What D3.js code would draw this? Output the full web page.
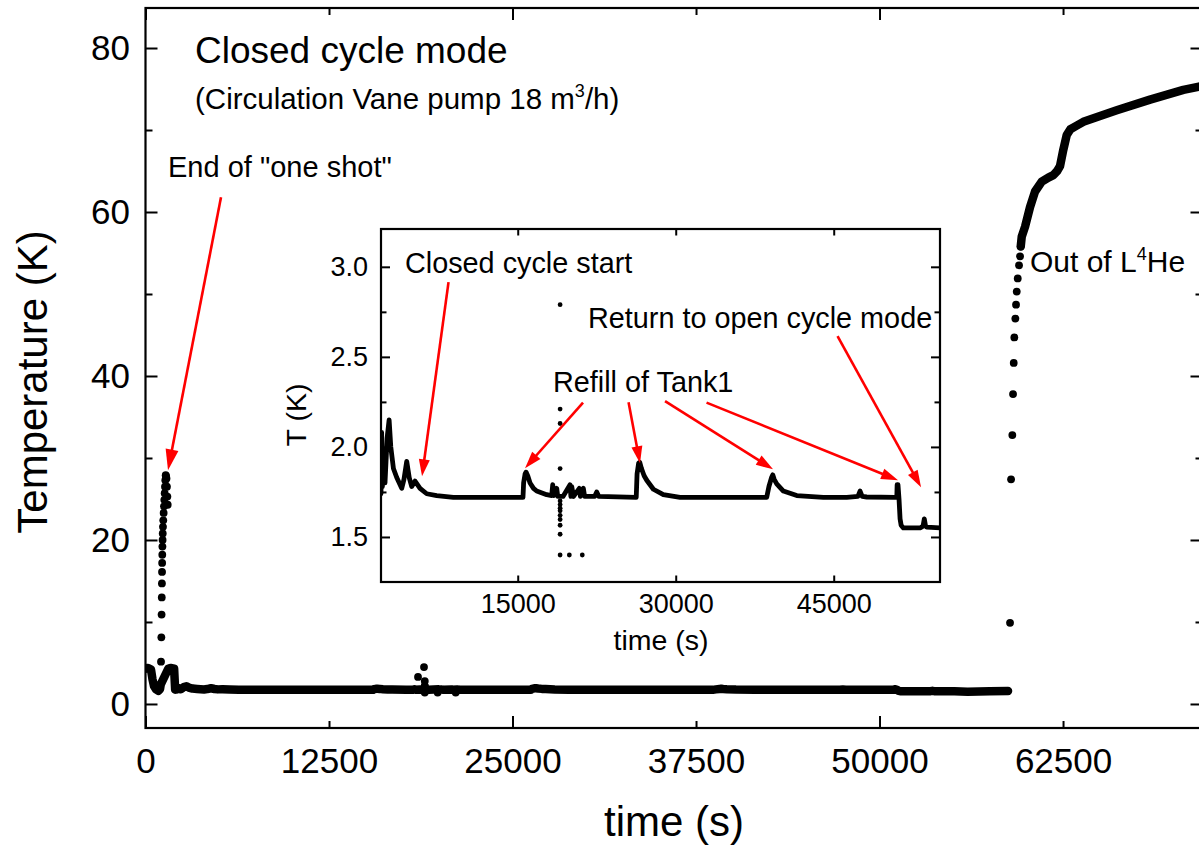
<!DOCTYPE html>
<html><head><meta charset="utf-8">
<script src="https://cdn.jsdelivr.net/npm/d3@7"></script>
<style>
body{margin:0;background:#fff}
svg{display:block}
</style>
</head><body>
<svg id="c" width="1199" height="846"></svg>
<script>
// ---------------- DATA ----------------
// main chart: early part (time s, T K)
const earlySeries = [[0,4.3],[170,4.4],[375,4.2],[477,3.0],[579,2.2],[715,1.8],[872,1.6],[988,1.8],[1040,2.4],[1550,4.3],[1700,4.4],[1950,4.3]];
// "one shot" spike, individual points
const spikeDots = [[1056,5.16],[1080,8.13],[1096,10.9],[1108,13.0],[1118,14.7],[1126,16.1],[1134,17.2],[1144,18.2],[1152,19.2],[1164,20.0],[1174,20.8],[1190,21.6],[1210,22.4],[1236,23.3],[1258,24.1],[1282,24.9],[1306,25.7],[1328,26.5],[1350,27.3],[1376,27.9],[1400,27.8],[1430,27.5],[1460,26.5],[1490,25.3],[1512,24.3]];
// closed-cycle low temperature record (shared by main plot and inset)
const lowSeries = [[2020,1.74],[2080,2.08],[2150,1.78],[2250,1.95],[2400,1.80],[2600,2.05],[2790,2.15],[2950,2.0],[3200,1.88],[3513,1.83],[3987,1.77],[4200,1.82],[4462,1.92],[4700,1.83],[4937,1.78],[5250,1.81],[5725,1.77],[6360,1.74],[7310,1.73],[8890,1.72],[12057,1.72],[15500,1.72],[15560,1.80],[15700,1.85],[15790,1.86],[15950,1.84],[16170,1.80],[16500,1.77],[16800,1.755],[17750,1.735],[18225,1.73],[18323,1.79],[18420,1.73],[18703,1.77],[18800,1.725],[19300,1.725],[19966,1.79],[20050,1.725],[20125,1.78],[20300,1.725],[20850,1.77],[20950,1.725],[21230,1.77],[21350,1.725],[22300,1.725],[22500,1.75],[22700,1.725],[26250,1.72],[26330,1.85],[26480,1.91],[26580,1.915],[26750,1.88],[27000,1.84],[27248,1.815],[27880,1.765],[28824,1.735],[30410,1.72],[38640,1.72],[38850,1.78],[39100,1.83],[39210,1.845],[39350,1.82],[39590,1.795],[40220,1.755],[41490,1.73],[44015,1.72],[46236,1.72],[47300,1.725],[47500,1.755],[47700,1.725],[48134,1.722],[50820,1.72],[50990,1.72],[51020,1.79],[51100,1.79],[51200,1.71],[51300,1.60],[51400,1.565],[51610,1.55],[53200,1.55],[53480,1.56],[53600,1.60],[53720,1.56],[53830,1.555],[55100,1.55]];
// main chart: rest of the closed-cycle record
const tailSeries = [[56000,1.5],[57500,1.55],[58755,1.58]];
// scattered readings around 19000 s
const scatterDots = [[18563,3.3],[18971,4.5],[19024,2.79],[19024,2.21],[19024,2.13],[19024,1.88],[19024,1.70],[19024,1.68],[19024,1.66],[19024,1.645],[19024,1.62],[19024,1.597],[19024,1.565],[19024,1.515],[19024,1.40],[19900,1.40],[21130,1.40]];
// warm-up after running out of liquid helium
const warmDots = [[58890,9.9],[58960,27.4],[59046,32.8],[59094,37.8],[59142,41.6],[59183,44.7],[59251,47.0],[59298,48.7],[59346,50.3],[59414,51.9],[59503,53.5],[59571,54.6],[59619,55.8]];
const warmSeries = [[59619,55.8],[59687,57.0],[59912,58.2],[60252,60.6],[60593,62.5],[61049,63.7],[61500,64.2],[61839,64.5],[62100,65.0],[62295,65.6],[62520,67.6],[62752,69.4],[63000,70.1],[63400,70.5],[63883,71.0],[66158,72.4],[68427,73.7],[70695,74.9],[71764,75.3],[72500,75.6]];

// ticks
const mainXMajor = [0, 25000, 50000];
const mainXMinor = [12500, 37500, 62500];
const mainYMajor = [0, 20, 40, 60, 80];
const mainYMinor = [10, 30, 50, 70];
const insetXTicks = [15000, 30000, 45000];
const insetYMajor = [1.5, 2.0, 2.5, 3.0];
const insetYMinor = [1.75, 2.25, 2.75];

// annotation arrows [from, to] in data units
const mainArrows = [[[5143, 61.8], [1533, 28.5]]];
const insetArrows = [
  [[8431, 2.915], [5915, 1.837]],
  [[21200, 2.246], [15694, 1.882]],
  [[25520, 2.248], [26612, 1.909]],
  [[28985, 2.254], [39240, 1.876]],
  [[32926, 2.246], [51106, 1.815]],
  [[45362, 2.615], [53290, 1.776]]
];

// ---------------- DRAW ----------------
const FONT = '"Liberation Sans", Arial, Helvetica, sans-serif';
const svg = d3.select('#c');

const L = 145.5, R = 1202.5, T = 8, B = 728;
const x = d3.scaleLinear().domain([0, 72000]).range([L, R]);
const y = d3.scaleLinear().domain([-2.93, 84.88]).range([B, T]);

const defs = svg.append('defs');
defs.append('clipPath').attr('id', 'mainClip').append('rect')
  .attr('x', L).attr('y', T).attr('width', R - L).attr('height', B - T);

const gMain = svg.append('g').attr('clip-path', 'url(#mainClip)');
const lineMain = d3.line().x(d => x(d[0])).y(d => y(d[1]));
const mainPts = earlySeries.concat(lowSeries, tailSeries);
gMain.append('path').attr('d', lineMain(mainPts)).attr('fill', 'none')
  .attr('stroke', '#000').attr('stroke-width', 8.5).attr('stroke-linecap', 'round').attr('stroke-linejoin', 'round');
gMain.append('path').attr('d', lineMain(warmSeries)).attr('fill', 'none')
  .attr('stroke', '#000').attr('stroke-width', 8.5).attr('stroke-linecap', 'round').attr('stroke-linejoin', 'round');
gMain.selectAll('circle.d').data(spikeDots.concat(scatterDots, warmDots)).enter().append('circle')
  .attr('cx', d => x(d[0])).attr('cy', d => y(d[1])).attr('r', 3.9).attr('fill', '#000');

function styleAxis(g, size) {
  g.select('.domain').remove();
  g.attr('font-family', FONT).attr('font-size', size);
  g.selectAll('.tick line').attr('stroke', '#000').attr('stroke-width', 2);
  g.selectAll('.tick text').attr('fill', '#000');
}
const fmtD = d3.format('d');
// main axes
styleAxis(svg.append('g').attr('transform', `translate(0,${B})`)
  .call(d3.axisBottom(x).tickValues(mainXMajor).tickSize(-12).tickPadding(20).tickFormat(fmtD)), 35);
styleAxis(svg.append('g').attr('transform', `translate(0,${B})`)
  .call(d3.axisBottom(x).tickValues(mainXMinor).tickSize(-7).tickPadding(20).tickFormat(fmtD)), 35);
styleAxis(svg.append('g').attr('transform', `translate(0,${T})`)
  .call(d3.axisTop(x).tickValues(mainXMajor).tickSize(-12).tickFormat('')), 35);
styleAxis(svg.append('g').attr('transform', `translate(0,${T})`)
  .call(d3.axisTop(x).tickValues(mainXMinor).tickSize(-7).tickFormat('')), 35);
styleAxis(svg.append('g').attr('transform', `translate(${L},0)`)
  .call(d3.axisLeft(y).tickValues(mainYMajor).tickSize(-12).tickPadding(15.5).tickFormat(fmtD)), 35);
styleAxis(svg.append('g').attr('transform', `translate(${L},0)`)
  .call(d3.axisLeft(y).tickValues(mainYMinor).tickSize(-7).tickFormat('')), 35);
styleAxis(svg.append('g').attr('transform', `translate(${R},0)`)
  .call(d3.axisRight(y).tickValues(mainYMajor).tickSize(-12).tickFormat('')), 35);
styleAxis(svg.append('g').attr('transform', `translate(${R},0)`)
  .call(d3.axisRight(y).tickValues(mainYMinor).tickSize(-7).tickFormat('')), 35);
svg.append('rect').attr('x', L).attr('y', T).attr('width', R - L).attr('height', B - T)
  .attr('fill', 'none').attr('stroke', '#000').attr('stroke-width', 2.2);

// ---------------- INSET ----------------
const iL = 381, iR = 940, iT = 229, iB = 582;
const xi = d3.scaleLinear().domain([2020, 55090]).range([iL, iR]);
const yi = d3.scaleLinear().domain([1.25, 3.21]).range([iB, iT]);
svg.append('rect').attr('x', iL).attr('y', iT).attr('width', iR - iL).attr('height', iB - iT).attr('fill', '#fff');
defs.append('clipPath').attr('id', 'insetClip').append('rect')
  .attr('x', iL).attr('y', iT).attr('width', iR - iL).attr('height', iB - iT);
const gIn = svg.append('g').attr('clip-path', 'url(#insetClip)');
const lineIn = d3.line().x(d => xi(d[0])).y(d => yi(d[1]));
gIn.append('path').attr('d', lineIn(lowSeries)).attr('fill', 'none')
  .attr('stroke', '#000').attr('stroke-width', 4.8).attr('stroke-linecap', 'round').attr('stroke-linejoin', 'round');
gIn.selectAll('circle').data(scatterDots).enter().append('circle')
  .attr('cx', d => xi(d[0])).attr('cy', d => yi(d[1])).attr('r', 2.4).attr('fill', '#000');

const fmt1 = d3.format('.1f');
styleAxis(svg.append('g').attr('transform', `translate(0,${iB})`)
  .call(d3.axisBottom(xi).tickValues(insetXTicks).tickSize(-6.5).tickPadding(12).tickFormat(fmtD)), 27);
styleAxis(svg.append('g').attr('transform', `translate(0,${iT})`)
  .call(d3.axisTop(xi).tickValues(insetXTicks).tickSize(-6.5).tickFormat('')), 27);
styleAxis(svg.append('g').attr('transform', `translate(${iL},0)`)
  .call(d3.axisLeft(yi).tickValues(insetYMajor).tickSize(-9).tickPadding(13).tickFormat(fmt1)), 27);
styleAxis(svg.append('g').attr('transform', `translate(${iL},0)`)
  .call(d3.axisLeft(yi).tickValues(insetYMinor).tickSize(-5.5).tickFormat('')), 27);
styleAxis(svg.append('g').attr('transform', `translate(${iR},0)`)
  .call(d3.axisRight(yi).tickValues(insetYMajor).tickSize(-9).tickFormat('')), 27);
styleAxis(svg.append('g').attr('transform', `translate(${iR},0)`)
  .call(d3.axisRight(yi).tickValues(insetYMinor).tickSize(-5.5).tickFormat('')), 27);
svg.append('rect').attr('x', iL).attr('y', iT).attr('width', iR - iL).attr('height', iB - iT)
  .attr('fill', 'none').attr('stroke', '#000').attr('stroke-width', 2.2);

// ---------------- TEXT ----------------
function txt(px, py, size, anchor) {
  return svg.append('text').attr('x', px).attr('y', py).attr('font-family', FONT)
    .attr('font-size', size).attr('text-anchor', anchor || 'start').attr('fill', '#000');
}
txt(674, 836, 42, 'middle').text('time (s)');
svg.append('text').attr('transform', 'translate(47,382) rotate(-90)').attr('font-family', FONT)
  .attr('font-size', 42).attr('text-anchor', 'middle').text('Temperature (K)');
txt(195, 63, 37).text('Closed cycle mode');
const t2 = txt(195, 109, 29.5);
t2.append('tspan').text('(Circulation Vane pump 18 m');
t2.append('tspan').attr('dy', -12).attr('font-size', 18).text('3');
t2.append('tspan').attr('dy', 12).text('/h)');
txt(168, 177, 29).text('End of "one shot"');
const t3 = txt(1030, 272, 30);
t3.append('tspan').text('Out of L');
t3.append('tspan').attr('dy', -12).attr('font-size', 18).text('4');
t3.append('tspan').attr('dy', 12).text('He');

txt(405, 273, 28.8).text('Closed cycle start');
txt(588, 328, 28.8).text('Return to open cycle mode');
txt(553, 392, 28.8).text('Refill of Tank1');
txt(661, 650, 28.5, 'middle').text('time (s)');
svg.append('text').attr('transform', 'translate(306,415) rotate(-90)').attr('font-family', FONT)
  .attr('font-size', 28.5).attr('text-anchor', 'middle').text('T (K)');

// ---------------- ARROWS ----------------
function arrow(p0, p1, hl, hw) {
  const dx = p1[0] - p0[0], dy = p1[1] - p0[1];
  const len = Math.hypot(dx, dy), ux = dx / len, uy = dy / len;
  const bx = p1[0] - ux * hl, by = p1[1] - uy * hl;
  svg.append('line').attr('x1', p0[0]).attr('y1', p0[1])
    .attr('x2', p1[0] - ux * hl * 0.7).attr('y2', p1[1] - uy * hl * 0.7)
    .attr('stroke', '#ff0000').attr('stroke-width', 2.6);
  svg.append('polygon').attr('points', [
    [p1[0], p1[1]], [bx - uy * hw, by + ux * hw], [bx + uy * hw, by - ux * hw]
  ].map(p => p.join(',')).join(' ')).attr('fill', '#ff0000');
}
mainArrows.forEach(a => arrow([x(a[0][0]), y(a[0][1])], [x(a[1][0]), y(a[1][1])], 21, 6.5));
insetArrows.forEach(a => arrow([xi(a[0][0]), yi(a[0][1])], [xi(a[1][0]), yi(a[1][1])], 17, 5.5));
</script>
</body></html>
